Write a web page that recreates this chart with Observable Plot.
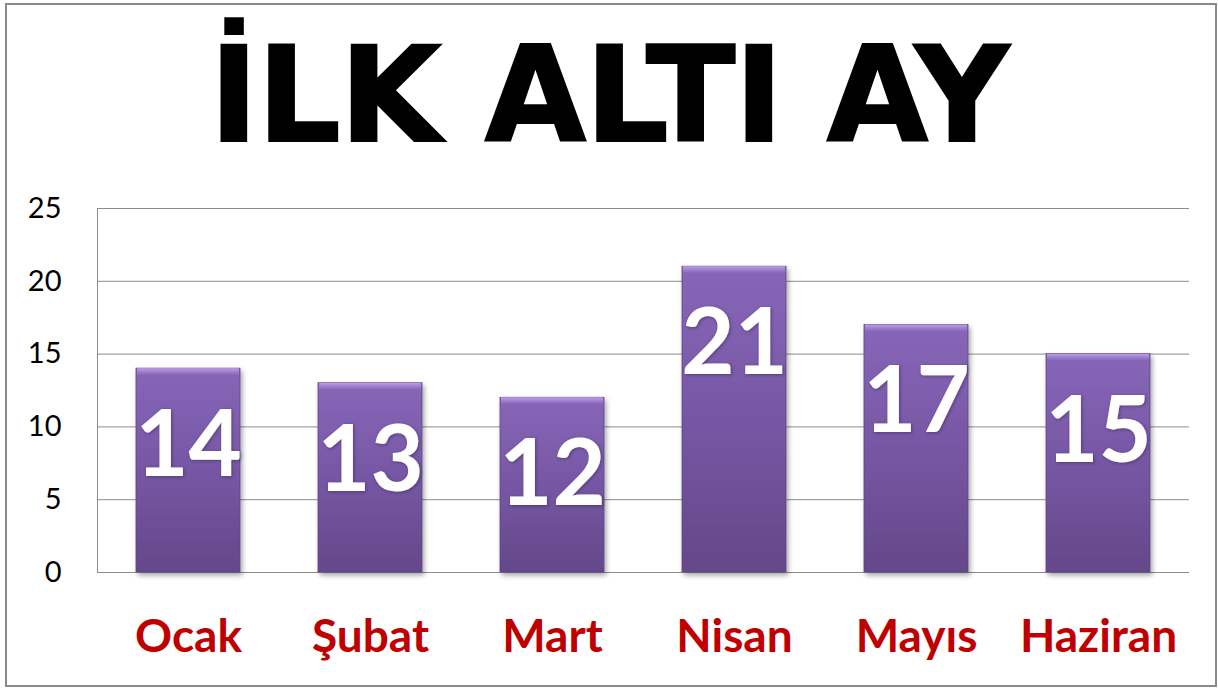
<!DOCTYPE html>
<html><head><meta charset="utf-8">
<script src="https://cdn.jsdelivr.net/npm/d3@7"></script>
<script src="https://cdn.jsdelivr.net/npm/@observablehq/plot@0.6"></script>
<style>
body{margin:0;background:#fff;width:1218px;height:689px;overflow:hidden;position:relative;}
#frame{position:absolute;left:5px;top:3px;width:1208px;height:680px;border:2px solid #8a8a8a;box-sizing:content-box;}
#title{position:absolute;left:0;top:26px;width:1218px;text-align:center;font-family:"DejaVu Sans";font-weight:bold;font-size:131px;line-height:140px;color:#000;letter-spacing:-1px;-webkit-text-stroke:2px #000;}
#chart{position:absolute;left:0;top:180px;}
</style></head>
<body>
<div id="frame"></div>
<div id="title">İLK ALTI AY</div>
<div id="chart"></div>
<script>
const months = ["Ocak","Şubat","Mart","Nisan","Mayıs","Haziran"];
const values = [14,13,12,21,17,15];
const yTicks = [0,5,10,15,20,25];

const data = months.map((m,i)=>({month:m, value:values[i]}));

const plot = Plot.plot({
  width:1218, height:500,
  marginTop:28, marginBottom:108, marginLeft:97, marginRight:29,
  x:{domain:months, paddingInner:0.43, paddingOuter:0.215, label:null},
  y:{domain:[0,25], ticks:yTicks, label:null},
  style:{fontFamily:"Lato", background:"transparent"},
  marks:[
    Plot.ruleY(yTicks,{stroke:"#8c8c8c", strokeWidth:1}),
    Plot.frame({anchor:"left", stroke:"#8c8c8c"}),
    Plot.barY(data,{x:"month", y:"value", fill:"url(#barGrad)", stroke:"#5e4585", strokeWidth:0.8, className:"mainbars"}),
    Plot.barY(data,{x:"month", y1:d=>d.value-0.45, y2:"value", fill:"url(#bevelGrad)", insetLeft:1, insetRight:1}),
    Plot.text(data,{x:"month", y:"value", text:d=>String(d.value), dy:78, fill:"white", fontSize:92, fontWeight:"bold", fontFamily:"Lato", className:"vals"}),
    Plot.axisY({ticks:yTicks, tickSize:0, tickPadding:36, fontSize:29, fill:"#000", label:null}),
    Plot.axisX({tickSize:0, tickPadding:47, fontSize:46, fontWeight:"bold", fill:"#c00000", label:null})
  ]
});

const svg = d3.select(plot);
const defs = svg.insert("defs",":first-child");
const g = defs.append("linearGradient").attr("id","barGrad").attr("x1",0).attr("y1",0).attr("x2",0).attr("y2",1);
g.append("stop").attr("offset","0%").attr("stop-color","#8766b8");
g.append("stop").attr("offset","50%").attr("stop-color","#7657a4");
g.append("stop").attr("offset","100%").attr("stop-color","#644889");
const b = defs.append("linearGradient").attr("id","bevelGrad").attr("x1",0).attr("y1",0).attr("x2",0).attr("y2",1);
b.append("stop").attr("offset","0%").attr("stop-color","#b89ee6");
b.append("stop").attr("offset","100%").attr("stop-color","#8a68bb");
const f = defs.append("filter").attr("id","shadow").attr("x","-10%").attr("y","-10%").attr("width","130%").attr("height","130%");
f.append("feDropShadow").attr("dx",2).attr("dy",3).attr("stdDeviation",2.5).attr("flood-color","#000").attr("flood-opacity",0.35);
const f2 = defs.append("filter").attr("id","tshadow").attr("x","-10%").attr("y","-10%").attr("width","130%").attr("height","130%");
f2.append("feDropShadow").attr("dx",1).attr("dy",1).attr("stdDeviation",1.5).attr("flood-color","#2a1a45").attr("flood-opacity",0.5);
svg.selectAll("g.mainbars").attr("filter","url(#shadow)");
svg.selectAll("g.vals").attr("filter","url(#tshadow)");
document.getElementById("chart").appendChild(plot);
</script>
</body></html>
